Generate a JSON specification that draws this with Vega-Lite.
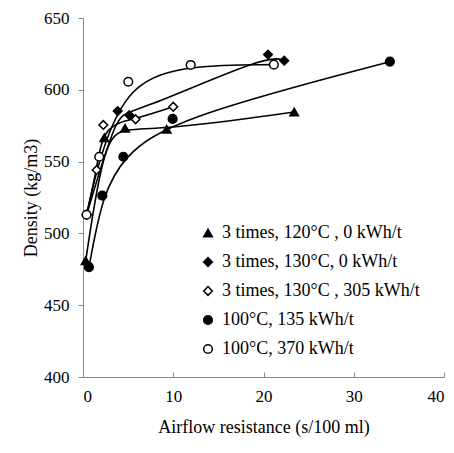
{
  "$schema": "https://vega.github.io/schema/vega-lite/v6.json",
  "width": 361,
  "height": 359,
  "autosize": "none",
  "padding": {"left": 83, "top": 18, "right": 10, "bottom": 76},
  "background": "white",
  "config": {
    "view": {"stroke": null},
    "font": "Liberation Serif",
    "axis": {
      "grid": false,
      "domainColor": "#888888",
      "tickColor": "#888888",
      "labelColor": "black",
      "labelFont": "Liberation Serif",
      "labelFontSize": 17,
      "titleFont": "Liberation Serif",
      "titleFontSize": 18,
      "titleFontWeight": "normal",
      "titleColor": "black"
    },
    "legend": {
      "labelFont": "Liberation Serif",
      "labelFontSize": 18,
      "labelColor": "black",
      "labelLimit": 400
    }
  },
  "data": {
    "values": [
      {"series": "3 times, 120°C , 0 kWh/t", "x": 0.3, "y": 481},
      {"series": "3 times, 120°C , 0 kWh/t", "x": 2.36, "y": 566.6},
      {"series": "3 times, 120°C , 0 kWh/t", "x": 4.65, "y": 573.2},
      {"series": "3 times, 120°C , 0 kWh/t", "x": 9.27, "y": 572.5},
      {"series": "3 times, 120°C , 0 kWh/t", "x": 23.4, "y": 584.5},
      {"series": "3 times, 130°C, 0 kWh/t", "x": 0.4, "y": 513},
      {"series": "3 times, 130°C, 0 kWh/t", "x": 3.84, "y": 585.2},
      {"series": "3 times, 130°C, 0 kWh/t", "x": 5.13, "y": 582.4},
      {"series": "3 times, 130°C, 0 kWh/t", "x": 20.5, "y": 624.5},
      {"series": "3 times, 130°C, 0 kWh/t", "x": 22.3, "y": 620.3},
      {"series": "3 times, 130°C , 305 kWh/t", "x": 0.4, "y": 513},
      {"series": "3 times, 130°C , 305 kWh/t", "x": 1.51, "y": 544.2},
      {"series": "3 times, 130°C , 305 kWh/t", "x": 2.25, "y": 575.5},
      {"series": "3 times, 130°C , 305 kWh/t", "x": 5.83, "y": 579.5},
      {"series": "3 times, 130°C , 305 kWh/t", "x": 10.0, "y": 588.2},
      {"series": "100°C, 135 kWh/t", "x": 0.66, "y": 476.5},
      {"series": "100°C, 135 kWh/t", "x": 2.14, "y": 526.3},
      {"series": "100°C, 135 kWh/t", "x": 4.47, "y": 553.4},
      {"series": "100°C, 135 kWh/t", "x": 9.93, "y": 579.7},
      {"series": "100°C, 135 kWh/t", "x": 34.0, "y": 619.6},
      {"series": "100°C, 370 kWh/t", "x": 0.4, "y": 513},
      {"series": "100°C, 370 kWh/t", "x": 1.8, "y": 553.4},
      {"series": "100°C, 370 kWh/t", "x": 5.02, "y": 605.6},
      {"series": "100°C, 370 kWh/t", "x": 11.93, "y": 617.3},
      {"series": "100°C, 370 kWh/t", "x": 21.15, "y": 617.5}
    ]
  },
  "encoding": {
    "x": {
      "field": "x", "type": "quantitative",
      "scale": {"domain": [0, 40], "nice": false},
      "axis": {"values": [0, 10, 20, 30, 40], "title": "Airflow resistance (s/100 ml)", "tickSize": -5, "labelPadding": 16, "titlePadding": 14}
    },
    "y": {
      "field": "y", "type": "quantitative",
      "scale": {"domain": [400, 650], "nice": false, "zero": false},
      "axis": {"values": [400, 450, 500, 550, 600, 650], "title": "Density (kg/m3)", "tickSize": 5, "labelPadding": 9, "titlePadding": 3}
    }
  },
  "layer": [
    {
      "mark": {"type": "line", "interpolate": "basis", "color": "black", "strokeWidth": 1.6},
      "encoding": {"detail": {"field": "series"}, "order": {"field": "x"}}
    },
    {
      "mark": {"type": "point", "filled": true, "strokeWidth": 1.5, "size": 75, "opacity": 1},
      "encoding": {
        "shape": {
          "field": "series", "type": "nominal",
          "scale": {
            "domain": ["3 times, 120°C , 0 kWh/t", "3 times, 130°C, 0 kWh/t", "3 times, 130°C , 305 kWh/t", "100°C, 135 kWh/t", "100°C, 370 kWh/t"],
            "range": ["triangle-up", "diamond", "diamond", "circle", "circle"]
          },
          "legend": {"title": null, "orient": "none", "legendX": 116, "legendY": 206, "rowPadding": 11, "symbolSize": 75, "symbolStrokeWidth": 1.5, "labelOffset": 5}
        },
        "fill": {
          "field": "series", "type": "nominal",
          "scale": {
            "domain": ["3 times, 120°C , 0 kWh/t", "3 times, 130°C, 0 kWh/t", "3 times, 130°C , 305 kWh/t", "100°C, 135 kWh/t", "100°C, 370 kWh/t"],
            "range": ["black", "black", "white", "black", "white"]
          },
          "legend": {"title": null, "orient": "none", "legendX": 116, "legendY": 206, "rowPadding": 11, "symbolSize": 75, "symbolStrokeWidth": 1.5, "labelOffset": 5}
        },
        "stroke": {
          "field": "series", "type": "nominal",
          "scale": {
            "domain": ["3 times, 120°C , 0 kWh/t", "3 times, 130°C, 0 kWh/t", "3 times, 130°C , 305 kWh/t", "100°C, 135 kWh/t", "100°C, 370 kWh/t"],
            "range": ["black", "black", "black", "black", "black"]
          },
          "legend": {"title": null, "orient": "none", "legendX": 116, "legendY": 206, "rowPadding": 11, "symbolSize": 75, "symbolStrokeWidth": 1.5, "labelOffset": 5}
        }
      }
    }
  ]
}
